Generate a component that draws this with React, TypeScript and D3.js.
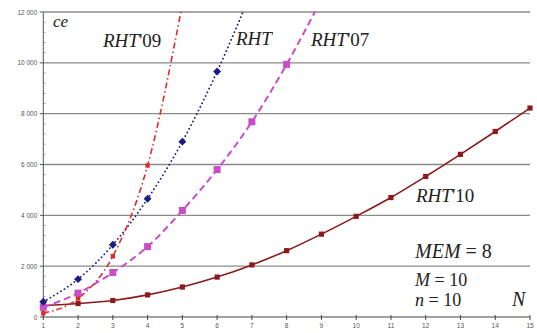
import React from "react";
import * as d3 from "d3";

const W = 537;
const H = 333;

const nValues = [1, 2, 3, 4, 5, 6, 7, 8, 9, 10, 11, 12, 13, 14, 15];
const yTicks = [0, 2000, 4000, 6000, 8000, 10000, 12000];

// Marker values
const rht10 = [450, 530, 650, 870, 1180, 1570, 2050, 2610, 3260, 3960, 4700, 5530, 6400, 7300, 8220];
const rht = [600, 1490, 2840, 4650, 6900, 9660];
const rht07 = [380, 940, 1750, 2770, 4190, 5800, 7680, 9940];
const rht09 = [150, 730, 2390, 5960];

// Trend lines continue past the last marker (read where they leave the top of the plot)
const rht09Next = { n: 5, v: 12300 };
const rhtNext = { n: 7, v: 12850 };
const rht07Next = { n: 9, v: 12500 };

const x = d3.scaleLinear().domain([1, 15]).range([43.3, 530]);
const y = d3.scaleLinear().domain([0, 12000]).range([317, 12]);

type P = { n: number; v: number };
const toPts = (arr: number[]): P[] => arr.map((v, i) => ({ n: nValues[i], v }));

const line = d3
  .line<P>()
  .x((d) => x(d.n))
  .y((d) => y(d.v))
  .curve(d3.curveMonotoneX);

const fmt = (v: number) => {
  const s = String(v);
  return s.length > 3 ? s.slice(0, s.length - 3) + " " + s.slice(-3) : s;
};

const serif = "'Liberation Serif', 'Times New Roman', serif";
const sans = "'Liberation Sans', Arial, sans-serif";

export default function App() {
  const p10 = toPts(rht10);
  const pR = toPts(rht);
  const p07 = toPts(rht07);
  const p09 = toPts(rht09);

  const minor: number[] = d3.range(0, 12000, 400).filter((v) => v % 2000 !== 0);

  const red = "#e02a2a";
  const navy = "#1c1c80";
  const mag = "#c84ec8";
  const dark = "#8c1a1c";

  return (
    <svg
      width={W}
      height={H}
      style={{ position: "absolute", left: 0, top: 0, background: "#fff" }}
    >
      <defs>
        <clipPath id="plot">
          <rect x={x(1) - 10} y={y(12000) - 0.5} width={x(15) - x(1) + 20} height={y(0) - y(12000) + 10} />
        </clipPath>
      </defs>
      {/* gridlines */}
      {yTicks
        .filter((t) => t > 0)
        .map((t) => (
          <line key={t} x1={x(1)} x2={x(15)} y1={y(t)} y2={y(t)} stroke="#8a8a8a" strokeWidth={1.3} />
        ))}
      {/* y axis */}
      <line x1={x(1)} x2={x(1)} y1={y(12000)} y2={y(0)} stroke="#555" strokeWidth={1} />
      {yTicks.map((t) => (
        <g key={"yt" + t}>
          <line x1={x(1) - 3.5} x2={x(1)} y1={y(t)} y2={y(t)} stroke="#555" strokeWidth={1} />
          <text
            x={x(1) - 6}
            y={y(t) + 2.5}
            textAnchor="end"
            fontFamily={sans}
            fontSize={6.5}
            fill="#555"
          >
            {fmt(t)}
          </text>
        </g>
      ))}
      {minor.map((t) => (
        <line key={"m" + t} x1={x(1)} x2={x(1) + 2} y1={y(t)} y2={y(t)} stroke="#777" strokeWidth={0.8} />
      ))}
      {/* x axis */}
      <line x1={x(1)} x2={x(15)} y1={y(0)} y2={y(0)} stroke="#444" strokeWidth={1.2} />
      {nValues.map((n) => (
        <g key={"xt" + n}>
          <line x1={x(n)} x2={x(n)} y1={y(0) - 2} y2={y(0) + 3} stroke="#444" strokeWidth={1} />
          <text x={x(n)} y={y(0) + 11} textAnchor="middle" fontFamily={sans} fontSize={6.5} fill="#555">
            {n}
          </text>
        </g>
      ))}

      <g clipPath="url(#plot)">
        {/* RHT'10 */}
        <path d={line(p10) || ""} fill="none" stroke={dark} strokeWidth={1.6} />
        {/* RHT'07 */}
        <path
          d={line([...p07, rht07Next]) || ""}
          fill="none"
          stroke={mag}
          strokeWidth={2}
          strokeDasharray="7,4"
        />
        {/* RHT */}
        <path
          d={line([...pR, rhtNext]) || ""}
          fill="none"
          stroke={navy}
          strokeWidth={1.8}
          strokeDasharray="0.1,4"
          strokeLinecap="round"
        />
        {/* RHT'09 */}
        <path
          d={line([...p09, rht09Next]) || ""}
          fill="none"
          stroke={red}
          strokeWidth={1.6}
          strokeDasharray="6,3,1.5,3"
        />
      </g>

      {/* markers */}
      {p10.map((d, i) => (
        <rect key={"a" + i} x={x(d.n) - 2.6} y={y(d.v) - 2.6} width={5.2} height={5.2} fill={dark} />
      ))}
      {p07.map((d, i) => (
        <rect key={"b" + i} x={x(d.n) - 3.5} y={y(d.v) - 3.5} width={7} height={7} fill={mag} />
      ))}
      {pR.map((d, i) => (
        <rect
          key={"c" + i}
          x={x(d.n) - 2.8}
          y={y(d.v) - 2.8}
          width={5.6}
          height={5.6}
          fill={navy}
          transform={`rotate(45 ${x(d.n)} ${y(d.v)})`}
        />
      ))}
      {p09.map((d, i) => (
        <rect key={"d" + i} x={x(d.n) - 2.2} y={y(d.v) - 2.2} width={4.4} height={4.4} fill={red} />
      ))}

      {/* labels */}
      <text x={53} y={27} fontFamily={serif} fontStyle="italic" fontSize={17} fill="#222">
        ce
      </text>
      <text x={103} y={47} fontFamily={serif} fontSize={19} fill="#222">
        <tspan fontStyle="italic">RHT</tspan>
        <tspan>'09</tspan>
      </text>
      <text x={236} y={45} fontFamily={serif} fontSize={19} fill="#222">
        <tspan fontStyle="italic">RHT</tspan>
      </text>
      <text x={311} y={46} fontFamily={serif} fontSize={19} fill="#222">
        <tspan fontStyle="italic">RHT</tspan>
        <tspan>'07</tspan>
      </text>
      <text x={416} y={202} fontFamily={serif} fontSize={19} fill="#222">
        <tspan fontStyle="italic">RHT</tspan>
        <tspan>'10</tspan>
      </text>
      <text x={415} y={258} fontFamily={serif} fontSize={20} fill="#222">
        <tspan fontStyle="italic">MEM</tspan>
        <tspan> = 8</tspan>
      </text>
      <text x={415} y={286} fontFamily={serif} fontSize={18} fill="#222">
        <tspan fontStyle="italic">M</tspan>
        <tspan> = 10</tspan>
      </text>
      <text x={415} y={306} fontFamily={serif} fontSize={18} fill="#222">
        <tspan fontStyle="italic">n</tspan>
        <tspan> = 10</tspan>
      </text>
      <text x={512} y={306} fontFamily={serif} fontStyle="italic" fontSize={20} fill="#222">
        N
      </text>
    </svg>
  );
}
